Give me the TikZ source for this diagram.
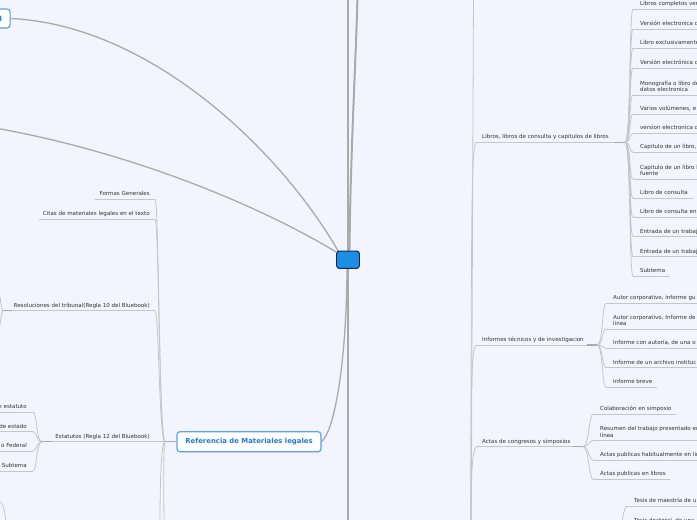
\documentclass[tikz,border=0pt]{standalone}
\usepackage{fontspec}
\setmainfont{DejaVu Sans}
\usetikzlibrary{calc,shadows}
\pgfdeclarelayer{back}
\pgfdeclarelayer{lines}
\pgfsetlayers{back,lines,main}
\definecolor{bgc}{HTML}{F2F5FD}
\definecolor{txt}{HTML}{333333}
\definecolor{ulc}{HTML}{C6C6C6}
\definecolor{stubc}{HTML}{ABABAB}
\definecolor{trunkc}{HTML}{AAAAAA}
\definecolor{blueb}{HTML}{5AA3EE}
\definecolor{bluet}{HTML}{1F7AD9}
\definecolor{cfill}{HTML}{1C8FE5}
\definecolor{cdraw}{HTML}{0E2B55}
\newcommand\rchild[4]{%
  \node[lbl, anchor=base west] (#1) at (#2,#3-3.6) {#4};
  \coordinate (#1-l) at (#2-7,#3);
  \coordinate (#1-r) at ($(#1.base east |- 0,#3)+(4.5,0)$);
  \begin{pgfonlayer}{lines}\draw[ul] (#1-l) -- (#1-r);\end{pgfonlayer}}
\newcommand\rchildtwo[5]{%
  \node[lbl, anchor=base west] (#1) at (#2,#3-9.9) {#4};
  \node[lbl, anchor=base west] (#1b) at (#2,#3-3.6) {#5};
  \coordinate (#1-l) at (#2-7,#3);
  \coordinate (#1-r) at ($(#1.base east |- 0,#3)+(4.5,0)$);
  \begin{pgfonlayer}{lines}\draw[ul] (#1-l) -- (#1-r);\end{pgfonlayer}}
\newcommand\lchild[4]{%
  \node[lbl, anchor=base east] (#1) at (#2,#3-3.6) {#4};
  \coordinate (#1-r) at (#2+5,#3);
  \coordinate (#1-l) at ($(#1.base west |- 0,#3)+(-4,0)$);
  \begin{pgfonlayer}{lines}\draw[ul] (#1-l) -- (#1-r);\end{pgfonlayer}}
\begin{document}
\begin{tikzpicture}[x=1pt,y=-1pt,
  lbl/.style={inner sep=0pt, font=\fontsize{5.55}{6.5}\selectfont, text=txt},
  ul/.style={draw=ulc, line width=0.8pt},
  conn/.style={draw=ulc, line width=0.8pt},
  stub/.style={draw=stubc, line width=1.4pt},
  maintrunk/.style={draw=trunkc, line width=2pt},
  maincurve/.style={draw=trunkc, line width=1.3pt},
  refbox/.style={draw=blueb, fill=white, line width=1.2pt, rounded corners=3pt,
    font=\bfseries\fontsize{6.9}{8}\selectfont, text=bluet,
    drop shadow={opacity=0.12, shadow xshift=0.4pt, shadow yshift=-0.8pt}},
  centerbox/.style={draw=cdraw, fill=cfill, line width=1pt, rounded corners=2.5pt,
    minimum width=22.6pt, minimum height=17.3pt, inner sep=0pt}]
\useasboundingbox (0,0) rectangle (697,520);
\clip (0,0) rectangle (697,520);
\begin{pgfonlayer}{back}
\fill[bgc] (-10,-10) rectangle (710,530);
\end{pgfonlayer}

% central node and main nodes
\node[centerbox] (c) at (348,259.7) {};
\node[refbox, minimum width=144pt, minimum height=20pt, inner sep=0pt] (ref) at (249,441.7) {Referencia de Materiales legales};
\node[refbox, anchor=east, minimum height=19pt, text width=60pt, align=right, inner xsep=8pt, inner ysep=0pt] (tl) at (10.7,18.5) {l};

\coordinate (up1) at (348,-5);
\coordinate (up2) at (357.5,-5);
\coordinate (down1) at (348,530);
\coordinate (lft) at (-5,128);

\begin{pgfonlayer}{lines}
\draw[maintrunk] (c.north) -- (up1);
\draw[maintrunk] ([xshift=1.5pt]c.north) .. controls (350.5,150) and (356,60) .. (up2);
\draw[maintrunk] (c.south) -- (down1);
\draw[maincurve] ([xshift=-1pt]c.south) .. controls (346.5,360) and (335,430) .. (ref.east);
\draw[maincurve] (tl.east) .. controls (150,25) and (280,150) .. ([xshift=2pt,yshift=-0.5pt]c.north west);
\draw[maincurve] (lft) .. controls (120,150) and (250,200) .. ([yshift=-1.5pt]c.north west);
\end{pgfonlayer}

% ---------- right side ----------
\coordinate (rO) at (471,590);
\coordinate (rTop) at (473.5,-10);

\node[lbl, anchor=base west] (libros) at (482,138.7) {Libros, libros de consulta y capitulos de libros};
\coordinate (librosL) at (477,142.3);
\coordinate (sL) at (614,142.3);
\coordinate (jL) at (625,142.3);

\node[lbl, anchor=base west] (informes) at (482,341.4) {Informes técnicos y de investigacion};
\coordinate (informesL) at (477,345);
\coordinate (sI) at (587,345);
\coordinate (jI) at (597,345);

\node[lbl, anchor=base west] (actas) at (482,443.1) {Actas de congresos y simposios};
\coordinate (actasL) at (477,446.7);
\coordinate (sA) at (573,446.7);
\coordinate (jA) at (583,446.7);

\begin{pgfonlayer}{lines}
\draw[conn] (rO) -- (rTop);
\draw[conn] (rO) .. controls (471,182) and (471.5,142.3) .. (librosL);
\draw[conn] (rO) .. controls (470.5,385) and (471,345) .. (informesL);
\draw[conn] (rO) .. controls (470.5,487) and (471,446.7) .. (actasL);
\draw[ul] (librosL) -- (jL);
\draw[ul] (informesL) -- (jI);
\draw[ul] (actasL) -- (jA);
\draw[stub] (sL) -- (jL);
\draw[stub] (sI) -- (jI);
\draw[stub] (sA) -- (jA);
\end{pgfonlayer}

\rchild{l1}{640}{9.3}{Libros completos ver}
\rchild{l2}{640}{29}{Versión electronica d}
\rchild{l3}{640}{48.3}{Libro exclusivamente}
\rchild{l4}{640}{68.3}{Versión electrónica d}
\rchildtwo{l5}{640}{95}{Monografía o libro de}{datos electronica}
\rchild{l6}{640}{114}{Varios volúmenes, e}
\rchild{l7}{640}{133.3}{version electronica d}
\rchild{l8}{640}{152.3}{Capitulo de un libro,}
\rchildtwo{l9}{640}{179}{Capitulo de un libro l}{fuente}
\rchild{l10}{640}{198}{Libro de consulta}
\rchild{l11}{640}{217.3}{Libro de consulta en}
\rchild{l12}{640}{236.7}{Entrada de un trabaj}
\rchild{l13}{640}{256.7}{Entrada de un trabaj}
\rchild{l14}{640}{276}{Subtema}

\rchild{i1}{613}{303.3}{Autor corporativo, informe gu}
\rchildtwo{i2}{613}{329}{Autor corporativo, Informe de}{linea}
\rchild{i3}{613}{348.3}{Informe con autoría, de una o}
\rchild{i4}{613}{367.7}{Informe de un archivo instituc}
\rchild{i5}{613}{387.3}{Informe breve}

\rchild{a1}{600}{414.3}{Colaboración en simposio}
\rchildtwo{a2}{600}{440.7}{Resumen del trabajo presentado en}{línea}
\rchild{a3}{600}{460}{Actas publicas habitualmente en lin}
\rchild{a4}{600}{479.3}{Actas publicas en libros}

\coordinate (jT) at (616,550);
\rchild{t1}{634}{506}{Tesis de maestría de u}
\rchild{t2}{634}{526}{Tesis doctoral, de una}

\begin{pgfonlayer}{lines}
\foreach \n in {l1,l2,l3,l4,l5,l6,l7,l8,l9,l10,l11,l12,l13,l14}
  \draw[conn] (jL) .. controls +(6,0) and +(-4,0) .. (\n-l);
\foreach \n in {i1,i2,i3,i4,i5}
  \draw[conn] (jI) .. controls +(6,0) and +(-4,0) .. (\n-l);
\foreach \n in {a1,a2,a3,a4}
  \draw[conn] (jA) .. controls +(6,0) and +(-4,0) .. (\n-l);
\foreach \n in {t1,t2}
  \draw[conn] (jT) .. controls +(4,-10) and +(-4,0) .. (\n-l);
\end{pgfonlayer}

% ---------- left side ----------
\coordinate (jR) at (165,441.7);
\coordinate (dR1) at (160,530);
\coordinate (dR2) at (164,530);
\lchild{formas}{150}{199.3}{Formas Generales}
\lchild{citas}{150}{219.3}{Citas de materiales legales en el texto}
\lchild{resol}{150}{310.7}{Resoluciones del tribunal(Regla 10 del Bluebook)}
\lchild{estat}{150}{441.7}{Estatutos (Regla 12 del Bluebook)}

\coordinate (jRes) at (3,310.7);
\coordinate (sRes) at (12,310.7);
\coordinate (res1) at (-6,250);
\coordinate (res2) at (-6,370);
\coordinate (jE) at (42,441.7);
\coordinate (sE) at (52,441.7);
\coordinate (bl1) at (6,540);
\coordinate (bl2) at (-6,500);

\node[lbl, anchor=base east] (e1) at (27,408.4) {e estatuto};
\node[lbl, anchor=base east] (e2) at (27,428.1) {de estado};
\node[lbl, anchor=base east] (e3) at (27,447.4) {o Federal};
\node[lbl, anchor=base east] (e4) at (27,467.4) {Subtema};
\coordinate (e1-r) at (33,412);
\coordinate (e2-r) at (33,431.7);
\coordinate (e3-r) at (33,451);
\coordinate (e4-r) at (33,471);
\coordinate (e1-l) at (-5,412);
\coordinate (e2-l) at (-5,431.7);
\coordinate (e3-l) at (-5,451);
\coordinate (e4-l) at (-5,471);

\begin{pgfonlayer}{lines}
\draw[stub] (ref.west) -- (jR);
\foreach \n in {formas,citas,resol,estat}
  \draw[conn] (jR) .. controls +(-6,0) and +(4,0) .. (\n-r);
\draw[conn] (jR) .. controls +(-5,0) and +(0,-20) .. (dR1);
\draw[conn] (jR) .. controls +(-2,0) and +(0,-20) .. (dR2);
\draw[stub] (jRes) -- (sRes);
\draw[conn] (jRes) .. controls +(-3,0) and +(2,0) .. (res1);
\draw[conn] (jRes) .. controls +(-3,0) and +(2,0) .. (res2);
\draw[stub] (jE) -- (sE);
\foreach \n in {e1,e2,e3,e4} {
  \draw[ul] (\n-l) -- (\n-r);
  \draw[conn] (jE) .. controls +(-6,0) and +(4,0) .. (\n-r);
}
\draw[conn] (bl1) .. controls (6,508) and (4,500) .. (bl2);
\end{pgfonlayer}
\end{tikzpicture}
\end{document}
